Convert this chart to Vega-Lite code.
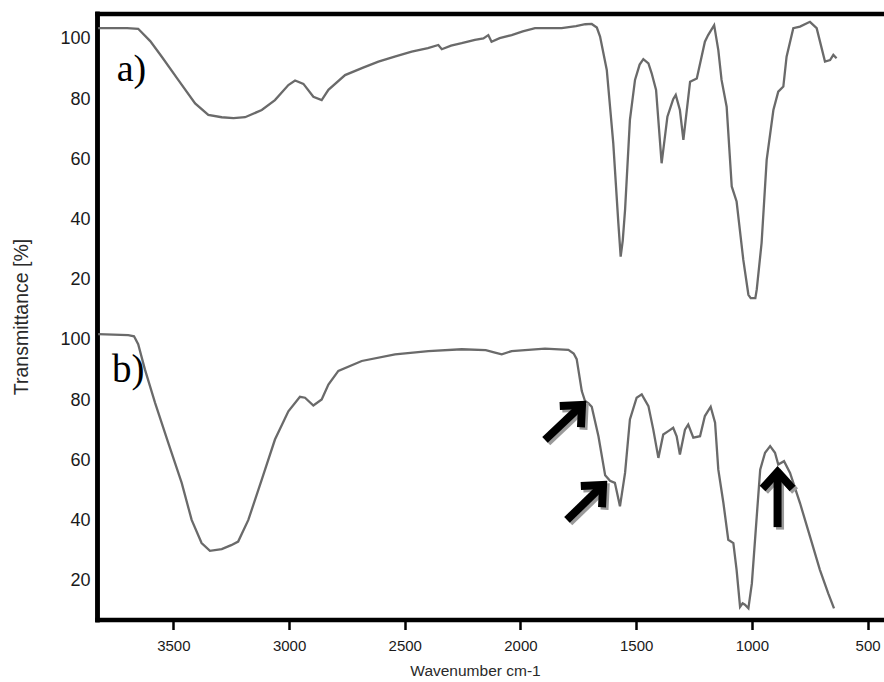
{
  "$schema": "https://vega.github.io/schema/vega-lite/v6.json",
  "width": 787,
  "height": 606,
  "autosize": {"type": "none"},
  "padding": {"left": 97, "top": 13.5, "right": 0, "bottom": 62.5},
  "background": "white",
  "config": {"view": {"stroke": null}, "font": "Liberation Sans", "axis": {"grid": false}},
  "datasets": {
    "a": [
      {"wn": 3825, "T": 103.6}, {"wn": 3700, "T": 103.6}, {"wn": 3652, "T": 103.4}, {"wn": 3600, "T": 99.3},
      {"wn": 3550, "T": 94.1}, {"wn": 3479, "T": 86.4}, {"wn": 3406, "T": 78.6}, {"wn": 3349, "T": 74.8},
      {"wn": 3291, "T": 74.0}, {"wn": 3240, "T": 73.7}, {"wn": 3190, "T": 74.0}, {"wn": 3118, "T": 76.4},
      {"wn": 3061, "T": 79.7}, {"wn": 3003, "T": 84.7}, {"wn": 2974, "T": 86.2}, {"wn": 2938, "T": 85.1},
      {"wn": 2895, "T": 80.8}, {"wn": 2859, "T": 79.7}, {"wn": 2830, "T": 83.1}, {"wn": 2758, "T": 88.0},
      {"wn": 2680, "T": 90.5}, {"wn": 2614, "T": 92.5}, {"wn": 2540, "T": 94.2}, {"wn": 2470, "T": 95.8},
      {"wn": 2400, "T": 97.0}, {"wn": 2355, "T": 98.0}, {"wn": 2340, "T": 96.6}, {"wn": 2300, "T": 97.8},
      {"wn": 2254, "T": 98.6}, {"wn": 2197, "T": 99.7}, {"wn": 2160, "T": 100.2}, {"wn": 2139, "T": 101.3},
      {"wn": 2125, "T": 99.1}, {"wn": 2090, "T": 100.3}, {"wn": 2038, "T": 101.3}, {"wn": 1990, "T": 102.5},
      {"wn": 1937, "T": 103.6}, {"wn": 1822, "T": 103.6}, {"wn": 1760, "T": 104.3}, {"wn": 1720, "T": 104.9},
      {"wn": 1692, "T": 105.0}, {"wn": 1670, "T": 103.8}, {"wn": 1656, "T": 100.8}, {"wn": 1627, "T": 89.7},
      {"wn": 1599, "T": 65.4}, {"wn": 1577, "T": 38.8}, {"wn": 1567, "T": 27.7}, {"wn": 1558, "T": 33.0},
      {"wn": 1548, "T": 43.2}, {"wn": 1527, "T": 73.1}, {"wn": 1505, "T": 86.4}, {"wn": 1485, "T": 91.5},
      {"wn": 1469, "T": 93.3}, {"wn": 1447, "T": 91.9}, {"wn": 1433, "T": 88.6}, {"wn": 1414, "T": 83.1},
      {"wn": 1390, "T": 58.7}, {"wn": 1365, "T": 74.2}, {"wn": 1340, "T": 80.0}, {"wn": 1329, "T": 81.4},
      {"wn": 1311, "T": 76.4}, {"wn": 1296, "T": 66.5}, {"wn": 1267, "T": 85.8}, {"wn": 1238, "T": 86.9},
      {"wn": 1203, "T": 99.1}, {"wn": 1189, "T": 101.3}, {"wn": 1163, "T": 104.6}, {"wn": 1145, "T": 96.3},
      {"wn": 1131, "T": 86.4}, {"wn": 1109, "T": 77.5}, {"wn": 1087, "T": 51.0}, {"wn": 1066, "T": 46.0},
      {"wn": 1037, "T": 26.6}, {"wn": 1015, "T": 15.0}, {"wn": 1005, "T": 13.9}, {"wn": 985, "T": 13.9},
      {"wn": 979, "T": 16.7}, {"wn": 958, "T": 32.2}, {"wn": 936, "T": 59.8}, {"wn": 907, "T": 76.4},
      {"wn": 886, "T": 82.5}, {"wn": 864, "T": 84.2}, {"wn": 850, "T": 94.1}, {"wn": 821, "T": 103.6},
      {"wn": 792, "T": 104.1}, {"wn": 749, "T": 105.7}, {"wn": 720, "T": 103.6}, {"wn": 684, "T": 92.5},
      {"wn": 662, "T": 93.0}, {"wn": 648, "T": 94.7}, {"wn": 634, "T": 93.6}
    ],
    "b": [
      {"wn": 3825, "T": 101.9}, {"wn": 3695, "T": 101.6}, {"wn": 3670, "T": 101.2}, {"wn": 3652, "T": 98.6},
      {"wn": 3623, "T": 90.2}, {"wn": 3579, "T": 79.1}, {"wn": 3522, "T": 65.8}, {"wn": 3464, "T": 52.5},
      {"wn": 3421, "T": 40.2}, {"wn": 3378, "T": 32.5}, {"wn": 3342, "T": 29.9}, {"wn": 3291, "T": 30.5},
      {"wn": 3250, "T": 31.8}, {"wn": 3220, "T": 33.0}, {"wn": 3176, "T": 40.2}, {"wn": 3118, "T": 53.6},
      {"wn": 3061, "T": 66.9}, {"wn": 3003, "T": 76.3}, {"wn": 2953, "T": 81.1}, {"wn": 2931, "T": 80.8},
      {"wn": 2895, "T": 78.2}, {"wn": 2859, "T": 80.2}, {"wn": 2830, "T": 85.2}, {"wn": 2787, "T": 89.7},
      {"wn": 2686, "T": 93.0}, {"wn": 2542, "T": 95.2}, {"wn": 2398, "T": 96.3}, {"wn": 2254, "T": 96.9},
      {"wn": 2150, "T": 96.6}, {"wn": 2110, "T": 95.8}, {"wn": 2081, "T": 95.2}, {"wn": 2038, "T": 96.3},
      {"wn": 1894, "T": 97.1}, {"wn": 1793, "T": 96.7}, {"wn": 1770, "T": 95.5}, {"wn": 1757, "T": 93.6},
      {"wn": 1735, "T": 83.0}, {"wn": 1721, "T": 79.7}, {"wn": 1707, "T": 79.0}, {"wn": 1692, "T": 77.8},
      {"wn": 1663, "T": 68.0}, {"wn": 1634, "T": 55.0}, {"wn": 1613, "T": 53.2}, {"wn": 1592, "T": 52.5},
      {"wn": 1570, "T": 44.7}, {"wn": 1548, "T": 55.8}, {"wn": 1527, "T": 73.6}, {"wn": 1498, "T": 80.8},
      {"wn": 1476, "T": 81.9}, {"wn": 1447, "T": 78.0}, {"wn": 1426, "T": 70.2}, {"wn": 1404, "T": 60.8},
      {"wn": 1383, "T": 68.6}, {"wn": 1361, "T": 69.7}, {"wn": 1340, "T": 70.8}, {"wn": 1325, "T": 68.0},
      {"wn": 1311, "T": 61.9}, {"wn": 1289, "T": 70.2}, {"wn": 1275, "T": 71.9}, {"wn": 1253, "T": 67.5},
      {"wn": 1224, "T": 68.0}, {"wn": 1203, "T": 74.7}, {"wn": 1178, "T": 77.8}, {"wn": 1159, "T": 72.5},
      {"wn": 1145, "T": 56.9}, {"wn": 1123, "T": 45.8}, {"wn": 1102, "T": 33.6}, {"wn": 1080, "T": 32.5},
      {"wn": 1066, "T": 23.6}, {"wn": 1051, "T": 11.3}, {"wn": 1040, "T": 12.5}, {"wn": 1030, "T": 12.0},
      {"wn": 1015, "T": 10.8}, {"wn": 1000, "T": 19.1}, {"wn": 979, "T": 41.3}, {"wn": 964, "T": 56.9},
      {"wn": 943, "T": 62.5}, {"wn": 921, "T": 64.7}, {"wn": 900, "T": 62.5}, {"wn": 886, "T": 58.6},
      {"wn": 861, "T": 59.7}, {"wn": 835, "T": 55.8}, {"wn": 792, "T": 45.8}, {"wn": 749, "T": 34.7},
      {"wn": 706, "T": 23.6}, {"wn": 670, "T": 15.8}, {"wn": 645, "T": 10.8}
    ],
    "label_a": [{"wn": 3745, "T": 86.1, "label": "a)"}],
    "label_b": [{"wn": 3765, "T": 86.1, "label": "b)"}],
    "arrows": [
      {"arrow": "A1", "part": 0, "wn": 1894, "T": 66.8}, {"arrow": "A1", "part": 1, "wn": 1734, "T": 78.4},
      {"arrow": "A2", "part": 0, "wn": 1799, "T": 40.2}, {"arrow": "A2", "part": 1, "wn": 1643, "T": 51.8},
      {"arrow": "A3", "part": 0, "wn": 889, "T": 37.8}, {"arrow": "A3", "part": 1, "wn": 889, "T": 56.1}
    ]
  },
  "layer": [
    {
      "layer": [
        {
          "data": {"name": "a"},
          "mark": {"type": "line", "color": "#6a6a6a", "strokeWidth": 2.3},
          "encoding": {
            "x": {"field": "wn", "type": "quantitative",
              "scale": {"domain": [429, 3830], "reverse": true, "nice": false, "zero": false},
              "axis": {"orient": "top", "labels": false, "ticks": false, "title": null, "grid": false,
                "domainWidth": 4.5, "domainColor": "black", "domainCap": "square"}},
            "y": {"field": "T", "type": "quantitative",
              "scale": {"domain": [-92.9, 108.47], "nice": false, "zero": false},
              "axis": {"orient": "left", "values": [20, 40, 60, 80, 100], "title": null, "grid": false,
                "ticks": false, "tickSize": 0, "labelPadding": 7, "labelFontSize": 18, "labelColor": "#1a1a1a",
                "domainWidth": 4.5, "domainColor": "black", "domainCap": "square"}}
          }
        },
        {
          "data": {"name": "label_a"},
          "mark": {"type": "text", "font": "Liberation Serif", "fontSize": 38, "align": "left", "baseline": "alphabetic", "color": "black"},
          "encoding": {
            "x": {"field": "wn", "type": "quantitative"},
            "y": {"field": "T", "type": "quantitative"},
            "text": {"field": "label"}
          }
        }
      ]
    },
    {
      "layer": [
        {
          "data": {"name": "b"},
          "mark": {"type": "line", "color": "#6a6a6a", "strokeWidth": 2.3},
          "encoding": {
            "x": {"field": "wn", "type": "quantitative",
              "scale": {"domain": [429, 3830], "reverse": true, "nice": false, "zero": false},
              "axis": {"orient": "bottom", "values": [3500, 3000, 2500, 2000, 1500, 1000, 500], "format": "d",
                "title": "Wavenumber cm-1", "titleFontSize": 15.5, "titleFontWeight": "normal", "titleColor": "#2a2a2a",
                "titlePadding": 10, "titleX": 378, "grid": false,
                "tickSize": 10, "tickWidth": 2.5, "tickColor": "black",
                "labelFontSize": 15, "labelPadding": 9, "labelColor": "#1a1a1a",
                "domainWidth": 4.5, "domainColor": "black", "domainCap": "square"}},
            "y": {"field": "T", "type": "quantitative",
              "scale": {"domain": [7.1, 208.47], "nice": false, "zero": false},
              "axis": {"orient": "left", "values": [20, 40, 60, 80, 100], "title": "Transmittance [%]",
                "titleFontSize": 19.5, "titleFontWeight": "normal", "titleColor": "#2a2a2a", "titlePadding": 28, "grid": false,
                "ticks": false, "tickSize": 0, "labelPadding": 7, "labelFontSize": 18, "labelColor": "#1a1a1a",
                "domainWidth": 4.5, "domainColor": "black", "domainCap": "square"}}
          }
        },
        {
          "data": {"name": "label_b"},
          "mark": {"type": "text", "font": "Liberation Serif", "fontSize": 39, "align": "left", "baseline": "alphabetic", "color": "black"},
          "encoding": {
            "x": {"field": "wn", "type": "quantitative"},
            "y": {"field": "T", "type": "quantitative"},
            "text": {"field": "label"}
          }
        },
        {
          "data": {"name": "arrows"},
          "mark": {"type": "line", "color": "#9a9a9a", "strokeWidth": 8, "strokeCap": "butt", "xOffset": 2.5, "yOffset": 2.5},
          "encoding": {
            "x": {"field": "wn", "type": "quantitative"},
            "y": {"field": "T", "type": "quantitative"},
            "detail": {"field": "arrow"},
            "order": {"field": "part"}
          }
        },
        {
          "data": {"name": "arrows"},
          "transform": [{"filter": "datum.part == 1 && datum.arrow != 'A3'"}],
          "mark": {"type": "point", "shape": "M-1,1.1L0,0L1,1.1", "filled": false, "stroke": "#9a9a9a", "strokeWidth": 8, "size": 900, "angle": 45, "opacity": 1, "strokeJoin": "miter", "xOffset": 2.5, "yOffset": 2.5},
          "encoding": {
            "x": {"field": "wn", "type": "quantitative"},
            "y": {"field": "T", "type": "quantitative"}
          }
        },
        {
          "data": {"name": "arrows"},
          "transform": [{"filter": "datum.part == 1 && datum.arrow == 'A3'"}],
          "mark": {"type": "point", "shape": "M-1,1.1L0,0L1,1.1", "filled": false, "stroke": "#9a9a9a", "strokeWidth": 8, "size": 900, "angle": 0, "opacity": 1, "strokeJoin": "miter", "xOffset": 2.5, "yOffset": 2.5},
          "encoding": {
            "x": {"field": "wn", "type": "quantitative"},
            "y": {"field": "T", "type": "quantitative"}
          }
        },
        {
          "data": {"name": "arrows"},
          "mark": {"type": "line", "color": "black", "strokeWidth": 8, "strokeCap": "butt"},
          "encoding": {
            "x": {"field": "wn", "type": "quantitative"},
            "y": {"field": "T", "type": "quantitative"},
            "detail": {"field": "arrow"},
            "order": {"field": "part"}
          }
        },
        {
          "data": {"name": "arrows"},
          "transform": [{"filter": "datum.part == 1 && datum.arrow != 'A3'"}],
          "mark": {"type": "point", "shape": "M-1,1.1L0,0L1,1.1", "filled": false, "stroke": "black", "strokeWidth": 8, "size": 900, "angle": 45, "opacity": 1, "strokeJoin": "miter"},
          "encoding": {
            "x": {"field": "wn", "type": "quantitative"},
            "y": {"field": "T", "type": "quantitative"}
          }
        },
        {
          "data": {"name": "arrows"},
          "transform": [{"filter": "datum.part == 1 && datum.arrow == 'A3'"}],
          "mark": {"type": "point", "shape": "M-1,1.1L0,0L1,1.1", "filled": false, "stroke": "black", "strokeWidth": 8, "size": 900, "angle": 0, "opacity": 1, "strokeJoin": "miter"},
          "encoding": {
            "x": {"field": "wn", "type": "quantitative"},
            "y": {"field": "T", "type": "quantitative"}
          }
        }
      ]
    }
  ],
  "resolve": {"scale": {"y": "independent"}, "axis": {"x": "independent", "y": "independent"}}
}
